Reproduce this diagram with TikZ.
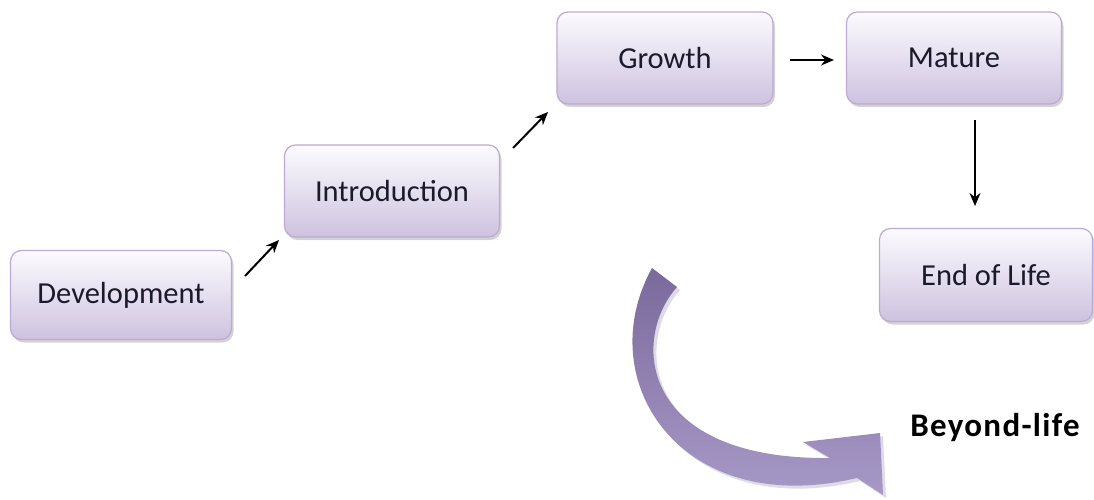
\documentclass[tikz,border=0pt]{standalone}
\usepackage{fontspec}
\setmainfont{Carlito}
\usetikzlibrary{shadows,arrows.meta}
\definecolor{boxtop}{HTML}{FCFBFF}
\definecolor{boxbot}{HTML}{CEC2DF}
\definecolor{boxline}{HTML}{BBAAD3}
\definecolor{txt}{HTML}{1A1A2C}
\definecolor{arrA}{HTML}{7A6A9C}
\definecolor{arrB}{HTML}{AC9ECB}
\tikzset{
  stagebox/.style={draw=boxline, line width=1.2pt, rounded corners=11pt,
    top color=boxtop, bottom color=boxbot, text=txt,
    font=\fontsize{30.5}{34}\selectfont,
    drop shadow={shadow xshift=2pt, shadow yshift=-3pt, opacity=0.35, fill=gray}},
  link/.style={-{Stealth[length=13pt,width=11pt]}, line width=2pt, black}
}
\begin{document}
\begin{tikzpicture}[x=1pt,y=-1pt]
\useasboundingbox (0,0) rectangle (1094,500);
\node[stagebox, minimum width=221pt, minimum height=89pt] (dev) at (121,295) {Development};
\node[stagebox, minimum width=215pt, minimum height=92pt] (intro) at (392,191) {Introduction};
\node[stagebox, minimum width=216pt, minimum height=92pt] (grow) at (665,58) {Growth};
\node[stagebox, minimum width=215pt, minimum height=92pt] (mat) at (954,58) {Mature};
\node[stagebox, minimum width=213pt, minimum height=93pt] (eol) at (986,275) {End of Life};
\node[font=\bfseries\fontsize{33}{36}\selectfont\addfontfeatures{LetterSpace=4}, text=black] (bl) at (995,428) {Beyond-life};
\coordinate (a1) at (245,276); \coordinate (a2) at (279,240);
\coordinate (b1) at (513,148); \coordinate (b2) at (548,112);
\coordinate (c1) at (790,60); \coordinate (c2) at (834,60);
\coordinate (d1) at (975,120); \coordinate (d2) at (975,206);
\draw[link] (a1) -- (a2);
\draw[link] (b1) -- (b2);
\draw[link] (c1) -- (c2);
\draw[link] (d1) -- (d2);
\fill[arrA, opacity=0.25] (655,271) -- (680,290) .. controls (633,343) and (643,463) .. (833,461) -- (806,445) -- (883,436) -- (886,498) -- (860,481) .. controls (683,523) and (593,383) .. (655,271) -- cycle;
\shade[top color=arrA, bottom color=arrB] (652,268) -- (677,287) .. controls (630,340) and (640,460) .. (830,458) -- (803,442) -- (880,433) -- (883,495) -- (857,478) .. controls (680,520) and (590,380) .. (652,268) -- cycle;
\end{tikzpicture}
\end{document}
